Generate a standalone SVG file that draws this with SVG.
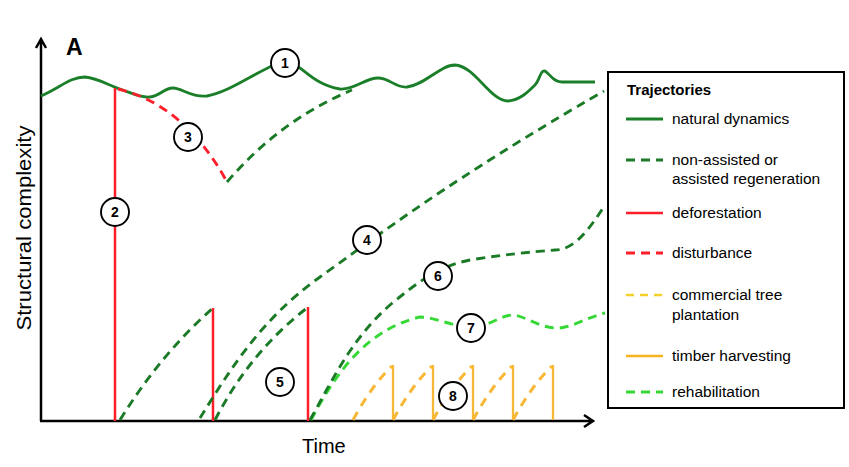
<svg xmlns="http://www.w3.org/2000/svg" width="849" height="467" viewBox="0 0 849 467">
<style>
.t{font-family:"Liberation Sans",Arial,sans-serif;fill:#000}
.nd{fill:none;stroke:#1b7f2a;stroke-width:2.8}
.rg{fill:none;stroke:#1a7a26;stroke-width:2.9;stroke-dasharray:9 6}
.df{fill:none;stroke:#ff1f2a;stroke-width:2.5}
.ds{fill:none;stroke:#ff1f2a;stroke-width:2.9;stroke-dasharray:9 6}
.cp{fill:none;stroke:#f8b836;stroke-width:3;stroke-dasharray:9 7}
.th{fill:none;stroke:#f8b836;stroke-width:2.3}
.rh{fill:none;stroke:#35d835;stroke-width:2.9;stroke-dasharray:9 6}
.ax{fill:none;stroke:#000;stroke-width:2.5}
.c circle{fill:#fff;stroke:#000;stroke-width:1.9}
.c text{font-family:"Liberation Sans",Arial,sans-serif;font-weight:bold;font-size:14px;text-anchor:middle}
.lg{font-family:"Liberation Sans",Arial,sans-serif;font-size:15.5px;fill:#000}
</style>

<g id="axes">
<path class="ax" d="M41,421 L41,39 M36,48 L41,39 L46,48"/>
<path class="ax" d="M40,421 L592,421 M584,415 L593,421 L584,427"/>
<text class="t" x="66" y="55" font-size="23" font-weight="bold">A</text>
<text class="t" font-size="20.5" text-anchor="middle" transform="translate(31,228) rotate(-90)" textLength="205" lengthAdjust="spacingAndGlyphs">Structural complexity</text>
<text class="t" x="302" y="453" font-size="20">Time</text>
</g>

<g id="connectors">
<path class="nd" d="M41,96 C60,88 70,77 85,77 C98,78 110,86 120,89 C132,93 140,98 150,97 C160,96 164,88 173,88 C182,88 192,98 207,96 C230,92 255,72 285,60 C300,62 310,84 340,89 C355,90 365,78 378,78 C390,78 395,88 407,87 C425,85 440,65 455,65 C475,66 490,101 508,101 C520,100 528,92 535,85 C540,80 540,70 545,71 C550,74 553,82 562,82 L595,82"/>
<path class="df" d="M115,88 L115,421"/>
<path class="ds" d="M118,89 Q185,105 227,182"/>
<path class="rg" d="M227,182 Q280,120 352,90"/>
<path class="rg" d="M120,420 Q160,355 213,308"/>
<path class="df" d="M213,308 L213,421"/>
<path class="rg" d="M200,418 C230,370 260,320 320,277 C380,234 450,180 604,91"/>
<path class="rg" d="M215,420 Q250,352 307,308"/>
<path class="df" d="M308,307 L308,421"/>
<path class="rh" d="M311,420 C335,375 365,330 420,317 C435,317 450,326 470,327 C490,327 500,315 513,315 C525,316 538,327 555,328 C570,329 585,318 605,313"/>
<path class="rg" d="M310,420 C330,385 350,340 390,305 C420,280 440,266 470,260 C500,255 530,252 555,250 C575,250 590,228 605,205"/>
<path class="cp" d="M353,420 Q372,385 392,366 M393,420 Q412,385 432,366 M433,420 Q452,385 472,366 M473,420 Q492,385 512,366 M513,420 Q532,385 552,366"/>
<path class="th" d="M393,365 L393,420 M433,365 L433,420 M473,365 L473,420 M513,365 L513,420 M553,365 L553,420"/>
</g>

<g id="n1" class="c"><circle cx="285" cy="63" r="14"/><text x="285" y="68">1</text></g>
<g id="n2" class="c"><circle cx="115" cy="212" r="14"/><text x="115" y="217">2</text></g>
<g id="n3" class="c"><circle cx="188" cy="137" r="14"/><text x="188" y="142">3</text></g>
<g id="n4" class="c"><circle cx="367" cy="240" r="14"/><text x="367" y="245">4</text></g>
<g id="n5" class="c"><circle cx="280" cy="382" r="14"/><text x="280" y="387">5</text></g>
<g id="n6" class="c"><circle cx="438" cy="276" r="14"/><text x="438" y="281">6</text></g>
<g id="n7" class="c"><circle cx="471" cy="328" r="14"/><text x="471" y="333">7</text></g>
<g id="n8" class="c"><circle cx="453" cy="396" r="14"/><text x="453" y="401">8</text></g>

<g id="legend">
<rect x="608" y="72" width="236" height="336" fill="#fff" stroke="#000" stroke-width="2"/>
<text class="t" x="627" y="95" font-size="15" font-weight="bold">Trajectories</text>
<path class="nd" d="M626,119 L663,119"/>
<text class="lg" x="672" y="124">natural dynamics</text>
<path class="rg" d="M626,160 L663,160" stroke-dasharray="8 6"/>
<text class="lg" x="672" y="165">non-assisted or</text>
<text class="lg" x="672" y="184">assisted regeneration</text>
<path class="df" d="M626,213 L663,213"/>
<text class="lg" x="672" y="218">deforestation</text>
<path class="ds" d="M626,253 L663,253" stroke-dasharray="8 6"/>
<text class="lg" x="672" y="258">disturbance</text>
<path d="M626,295 L663,295" fill="none" stroke="#f6d02a" stroke-width="2.4" stroke-dasharray="8 6"/>
<text class="lg" x="672" y="300">commercial tree</text>
<text class="lg" x="672" y="320">plantation</text>
<path d="M626,356 L663,356" fill="none" stroke="#f8b21e" stroke-width="2.4"/>
<text class="lg" x="672" y="361">timber harvesting</text>
<path class="rh" d="M626,392 L663,392" stroke-dasharray="8 6"/>
<text class="lg" x="672" y="397">rehabilitation</text>
</g>
</svg>
